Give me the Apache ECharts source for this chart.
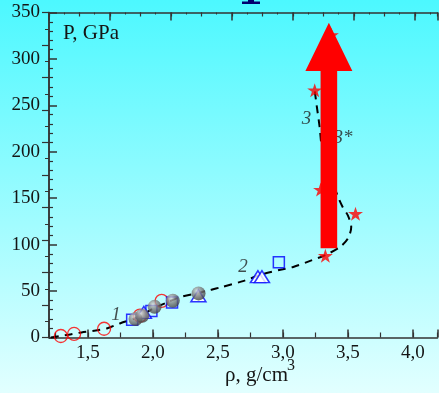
<!DOCTYPE html>
<html>
<head>
<meta charset="utf-8">
<script src="https://cdn.jsdelivr.net/npm/echarts@6/dist/echarts.min.js"></script>
<style>
  html, body { margin: 0; padding: 0; }
  #chart {
    width: 439px; height: 393px;
    background: linear-gradient(to bottom, rgb(76,248,255), rgb(226,255,255));
  }
</style>
</head>
<body>
<div id="chart"></div>
<script>
// density rho (g/cm3), pressure P (GPa)
const circles = [[1.291, 1.6], [1.393, 3.8], [1.624, 9.4], [1.9, 23.5], [2.067, 39.4]]
const squares = [[1.84, 19], [1.988, 28.6], [2.147, 37.8], [2.969, 81]]
const triangles = [[1.93, 27], [2.35, 45], [2.808, 65.5], [2.839, 65.5]]
const spheres = [[1.866, 20], [1.917, 23.4], [2.013, 33], [2.153, 39.6], [2.351, 47.5]]
const stars = [[3.327, 88], [3.559, 133.4], [3.29, 159.3], [3.245, 266.4], [3.373, 325.8]]
// dashed guide curve
const curve = [
  [1.214, 0], [1.35, 3], [1.45, 5.5], [1.56, 7.6], [1.65, 10], [1.75, 15.4],
  [1.87, 21], [2.0, 31], [2.12, 38.5], [2.21, 43.5], [2.35, 48], [2.45, 51.5],
  [2.52, 54], [2.7, 61], [2.85, 68.5], [3.0, 73.5], [3.08, 76], [3.2, 82],
  [3.33, 89], [3.44, 97.5], [3.5, 106.5], [3.526, 119], [3.5, 131.5],
  [3.46, 140.5], [3.42, 153], [3.35, 180], [3.3, 205], [3.283, 226.5],
  [3.258, 252], [3.245, 266]
]
const curveLabels = [[1.716, 23.7, '1'], [2.693, 75.5, '2'], [3.181, 235.6, '3'], [3.462, 215.2, '3*']]
// arrow: x, shaft bottom, head base, tip
const arrow = [[3.354, 96, 287, 339]]
const yTicks = { min: 0, max: 350, step: 50 }
const xRange = { min: 1.2, max: 4.19 }

const serif = "'Liberation Serif', 'DejaVu Serif', serif"
const ink = '#151515'
const axisCol = '#333'
const starPath = 'path://M50,0 L61,35 L98,35 L68,57 L79,92 L50,71 L21,92 L32,57 L2,35 L39,35 Z'

const myChart = echarts.init(document.getElementById('chart'))

const hiddenLabel = { show: false }
const option = {
  backgroundColor: 'transparent',
  animation: false,
  grid: { left: 49, right: 1.5, top: 12.5, bottom: 55.5, outerBoundsMode: 'none' },
  xAxis: [
    {
      type: 'value',
      min: xRange.min,
      max: xRange.max,
      splitNumber: 6,
      axisLine: { lineStyle: { color: axisCol, width: 1.5 } },
      axisTick: { inside: true, length: 8, lineStyle: { color: axisCol, width: 1.5 } },
      axisLabel: {
        color: ink, fontFamily: serif, fontSize: 19, margin: 6,
        formatter: function (v) {
          if (Math.abs(v * 2 - Math.round(v * 2)) > 1e-6) return ''
          return v.toFixed(1).replace('.', ',')
        }
      },
      splitLine: { show: false }
    },
    // minor ticks every 0.25 (axis in quarter units)
    {
      type: 'value',
      position: 'bottom',
      min: xRange.min * 4,
      max: xRange.max * 4,
      splitNumber: 12,
      axisLine: { show: false },
      axisTick: { inside: true, length: 5, lineStyle: { color: axisCol, width: 1.2 } },
      axisLabel: hiddenLabel,
      splitLine: { show: false }
    },
    // top frame
    {
      type: 'value',
      position: 'top',
      min: 0,
      max: 6.37,
      interval: 1,
      axisLine: { lineStyle: { color: axisCol, width: 1.5 } },
      axisTick: { inside: true, length: 8, lineStyle: { color: axisCol, width: 1.5 } },
      minorTick: { show: true, splitNumber: 4, length: 2, lineStyle: { color: axisCol } },
      axisLabel: hiddenLabel,
      splitLine: { show: false }
    },
    {
      type: 'value',
      position: 'top',
      min: 0,
      max: 6.37,
      interval: 0.5,
      axisLine: { show: false },
      axisTick: { inside: true, length: 4, lineStyle: { color: axisCol, width: 1.2 } },
      axisLabel: hiddenLabel,
      splitLine: { show: false }
    }
  ],
  yAxis: [
    {
      type: 'value',
      min: yTicks.min,
      max: yTicks.max,
      interval: yTicks.step,
      axisLine: { show: true, lineStyle: { color: axisCol, width: 1.5 } },
      axisTick: { show: true, inside: true, length: 8, lineStyle: { color: axisCol, width: 1.5 } },
      minorTick: { show: true, splitNumber: 5, length: 4, lineStyle: { color: axisCol, width: 1.2 } },
      axisLabel: { color: ink, fontFamily: serif, fontSize: 19, margin: 9 },
      splitLine: { show: false }
    },
    // right frame
    {
      type: 'value',
      position: 'right',
      min: 0,
      max: 10,
      interval: 1,
      axisLine: { show: true, lineStyle: { color: axisCol, width: 1.5 } },
      axisTick: { show: true, inside: true, length: 7, lineStyle: { color: axisCol, width: 1.2 } },
      minorTick: { show: true, splitNumber: 2, length: 4, lineStyle: { color: axisCol } },
      axisLabel: hiddenLabel,
      splitLine: { show: false }
    }
  ],
  graphic: [
    {
      type: 'text', left: 63, top: 23,
      style: { text: 'P, GPa', font: '21px ' + serif, fill: ink }
    },
    {
      type: 'text', left: 225, top: 365,
      style: { text: 'ρ, g/cm', font: '21px ' + serif, fill: ink }
    },
    {
      type: 'text', left: 287, top: 358,
      style: { text: '3', font: '16px ' + serif, fill: ink }
    },
    // cut-off mark at the top edge
    { type: 'rect', shape: { x: 242, y: 1.5, width: 18, height: 2.5 }, style: { fill: '#00006e' } },
    { type: 'rect', shape: { x: 248, y: 0, width: 6, height: 2 }, style: { fill: '#00006e' } }
  ],
  series: [
    {
      name: 'curve',
      type: 'line',
      data: curve,
      smooth: 0.3,
      showSymbol: false,
      symbol: 'none',
      lineStyle: { color: '#000', width: 2, type: [8, 6] },
      z: 2
    },
    {
      name: 'circles',
      type: 'scatter',
      data: circles,
      symbol: 'circle',
      symbolSize: 13,
      itemStyle: { color: 'rgba(0,0,0,0)', borderColor: '#ff0000', borderWidth: 1.3 },
      z: 3
    },
    {
      name: 'squares',
      type: 'scatter',
      data: squares,
      symbol: 'rect',
      symbolSize: 11,
      itemStyle: { color: 'rgba(0,0,0,0)', borderColor: '#0000ff', borderWidth: 1.5 },
      z: 3
    },
    {
      name: 'triangles',
      type: 'scatter',
      data: triangles,
      symbol: 'triangle',
      symbolSize: [15, 12],
      itemStyle: { color: '#ffffff', borderColor: '#0000ff', borderWidth: 1.5 },
      z: 3
    },
    {
      name: 'spheres',
      type: 'scatter',
      data: spheres,
      symbol: 'circle',
      symbolSize: 14,
      itemStyle: {
        color: {
          type: 'radial', x: 0.38, y: 0.32, r: 0.72,
          colorStops: [
            { offset: 0, color: '#d8d8d8' },
            { offset: 0.4, color: '#8a8a8a' },
            { offset: 1, color: '#3c3c3c' }
          ]
        }
      },
      z: 4
    },
    {
      name: 'stars',
      type: 'scatter',
      data: stars,
      symbol: starPath,
      symbolSize: [15, 14],
      itemStyle: { color: '#ff0000' },
      z: 4
    },
    {
      name: 'labels',
      type: 'scatter',
      data: curveLabels,
      symbolSize: 0,
      label: {
        show: true,
        position: 'inside',
        formatter: function (p) { return p.value[2] },
        fontFamily: serif,
        fontStyle: 'italic',
        fontSize: 19,
        color: '#222'
      },
      z: 4
    },
    {
      name: 'arrow',
      type: 'custom',
      data: arrow,
      encode: { x: 0, y: 1 },
      renderItem: function (params, api) {
        const x = api.value(0)
        const base = api.coord([x, api.value(1)])
        const neck = api.coord([x, api.value(2)])
        const tip = api.coord([x, api.value(3)])
        const sw = 8.3
        const hw = 23.5
        return {
          type: 'polygon',
          shape: {
            points: [
              [base[0] - sw, base[1]], [neck[0] - sw, neck[1]], [neck[0] - hw, neck[1]],
              tip,
              [neck[0] + hw, neck[1]], [neck[0] + sw, neck[1]], [base[0] + sw, base[1]]
            ]
          },
          style: { fill: '#ff0000' }
        }
      },
      z: 6
    }
  ]
}
myChart.setOption(option)
window.addEventListener('resize', function () {
  myChart.resize()
})
</script>
</body>
</html>
